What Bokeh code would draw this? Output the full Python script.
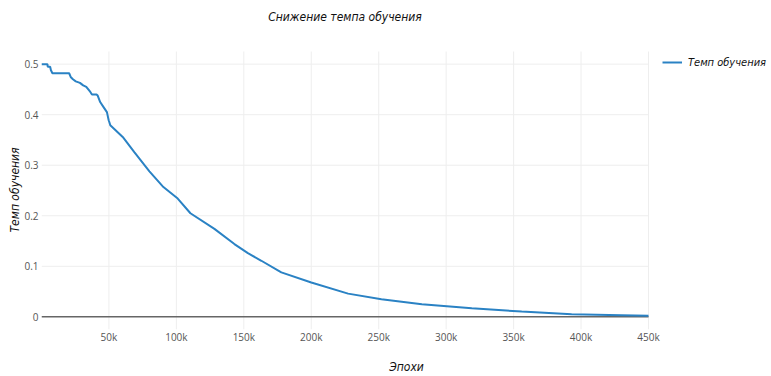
from bokeh.plotting import figure
from bokeh.models import Range1d, FixedTicker, Legend, LegendItem, Label, Title
from bokeh.embed import file_html
from bokeh.resources import INLINE

# ---- data ----
epochs = [0, 4400, 4600, 6400, 7000, 8100, 20500, 21800, 23300, 25400, 28500,
          30900, 33200, 36200, 37400, 40800, 41600, 43500, 46000, 48500, 49800,
          50200, 51000, 60200, 68800, 80000, 89900, 101000, 110400, 128200,
          143000, 153000, 163000, 177800, 200000, 227300, 252000, 282000,
          319000, 356000, 393000, 430000, 450000]
learning_rate = [0.5, 0.5, 0.495, 0.495, 0.488, 0.482, 0.482, 0.474, 0.470,
                 0.466, 0.463, 0.458, 0.455, 0.445, 0.440, 0.440, 0.438, 0.425,
                 0.415, 0.405, 0.389, 0.386, 0.379, 0.356, 0.326, 0.288, 0.258,
                 0.234, 0.205, 0.174, 0.144, 0.126, 0.111, 0.088, 0.068, 0.046,
                 0.035, 0.025, 0.017, 0.0105, 0.0054, 0.0034, 0.002]

x_ticks = [50000, 100000, 150000, 200000, 250000, 300000, 350000, 400000, 450000]
x_tick_labels = ["50k", "100k", "150k", "200k", "250k", "300k", "350k", "400k", "450k"]
y_ticks = [0, 0.1, 0.2, 0.3, 0.4, 0.5]
y_tick_labels = ["0", "0.1", "0.2", "0.3", "0.4", "0.5"]

title_text = "Снижение темпа обучения"
x_title = "Эпохи"
y_title = "Темп обучения"
series_name = "Темп обучения"

TITLE_FONT = "DejaVu Sans Condensed"
TICK_FONT = "Open Sans"

# axis ranges of the plotting area (plotly-like 5% padding on y)
x_min, x_max = 0, 450000
y_lo, y_hi = -0.025, 0.525

# plotting area: 41..648 px wide, 51..329 px high; the Bokeh frame is
# extended to the right and top edges so the legend and title fit inside it.
area_w, area_h, area_top, area_right_pad = 607, 278, 51, 123
x_per_px = (x_max - x_min) / area_w
y_per_px = (y_hi - y_lo) / area_h
x_view_end = x_max + area_right_pad * x_per_px
y_view_end = y_hi + area_top * y_per_px

p = figure(width=771, height=376, output_backend="svg", toolbar_location=None,
           x_range=Range1d(x_min, x_view_end), y_range=Range1d(y_lo, y_view_end),
           min_border_left=41, min_border_right=0, min_border_top=0,
           min_border_bottom=47)
p.outline_line_color = None
p.background_fill_color = "white"
p.border_fill_color = "white"

# grid lines limited to the plotting area, plus the zero line
grid_y = y_ticks[1:]
p.segment(x0=[x_min] * len(grid_y), y0=grid_y, x1=[x_max] * len(grid_y), y1=grid_y,
          line_color="#eeeeee", line_width=1)
p.segment(x0=x_ticks, y0=[y_lo] * len(x_ticks), x1=x_ticks, y1=[y_hi] * len(x_ticks),
          line_color="#eeeeee", line_width=1)
p.segment(x0=[x_min], y0=[0], x1=[x_max], y1=[0], line_color="#666666", line_width=1.5)

line = p.line(epochs, learning_rate, line_color="#2a82c4", line_width=2)

# chart title
p.add_layout(Label(x=(x_min + x_max) / 2, y=y_view_end - 16 * y_per_px,
                   text=title_text, text_align="center", text_baseline="middle",
                   text_font=TITLE_FONT, text_font_style="italic",
                   text_font_size="12px", text_color="#111111"))

# axes
p.xaxis.ticker = FixedTicker(ticks=x_ticks)
p.xaxis.major_label_overrides = {t: l for t, l in zip(x_ticks, x_tick_labels)}
p.yaxis.ticker = FixedTicker(ticks=y_ticks)
p.yaxis.major_label_overrides = {t: l for t, l in zip(y_ticks, y_tick_labels)}
for ax in (p.xaxis[0], p.yaxis[0]):
    ax.axis_line_color = None
    ax.major_tick_line_color = None
    ax.minor_tick_line_color = None
    ax.major_tick_out = 0
    ax.major_tick_in = 0
    ax.minor_tick_out = 0
    ax.minor_tick_in = 0
    ax.major_label_text_font = TICK_FONT
    ax.major_label_text_font_size = "10px"
    ax.major_label_text_color = "#555555"
    ax.axis_label_text_font = TITLE_FONT
    ax.axis_label_text_font_style = "italic"
    ax.axis_label_text_font_size = "12px"
    ax.axis_label_text_color = "#111111"
p.xaxis.axis_label = x_title
p.xaxis.major_label_standoff = 0
p.xaxis.axis_label_standoff = 13
p.yaxis.major_label_standoff = 3

# y-axis title, centred on the plotting area rather than on the extended frame
p.add_layout(Title(text=y_title, align="left", offset=97, standoff=0,
                   text_font=TITLE_FONT, text_font_style="italic",
                   text_font_size="12px", text_color="#111111"), "left")

p.xgrid.visible = False
p.ygrid.visible = False

legend = Legend(items=[LegendItem(label=series_name, renderers=[line])],
                location=(621, 257), padding=0, margin=0, spacing=0,
                glyph_width=20, glyph_height=20, label_standoff=6,
                border_line_color=None, background_fill_alpha=0,
                label_text_font=TITLE_FONT, label_text_font_style="italic",
                label_text_font_size="11px", label_text_color="#111111")
p.add_layout(legend)

open("out.html", "w").write(file_html(p, INLINE))
